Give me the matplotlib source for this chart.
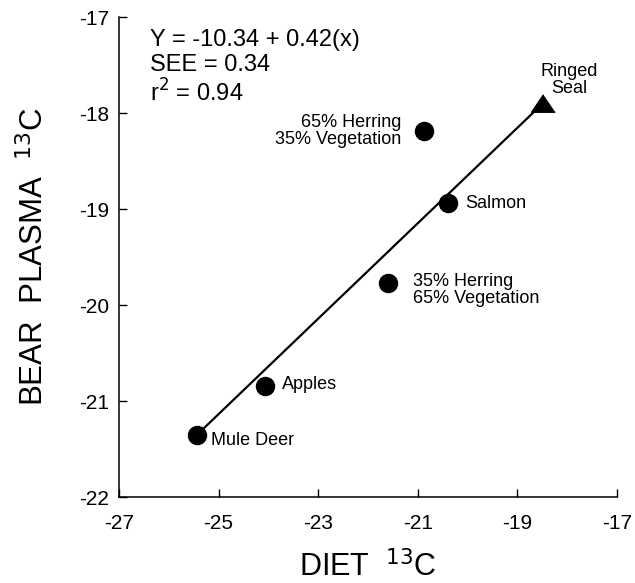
import matplotlib
matplotlib.use("Agg")
import matplotlib.pyplot as plt

plt.rcParams['font.family'] = ['Liberation Sans', 'DejaVu Sans']
plt.rcParams['axes.unicode_minus'] = False

# diet item delta 13C vs. bear plasma delta 13C
diets = ['Mule Deer', 'Apples', '35% Herring\n65% Vegetation', 'Salmon',
         '65% Herring\n35% Vegetation']
diet_c13 = [-25.43, -24.07, -21.60, -20.39, -20.88]
plasma_c13 = [-21.35, -20.84, -19.77, -18.94, -18.19]

seal_name = 'Ringed\nSeal'
seal_diet = -18.49
seal_plasma = -17.90

# fitted line drawn between the extreme diets
fit_x = [-25.43, -18.49]
fit_y = [-21.35, -17.90]

xticks = [-27, -25, -23, -21, -19, -17]
yticks = [-22, -21, -20, -19, -18, -17]

fig = plt.figure(figsize=(6.35, 5.83), dpi=100)
ax = fig.add_axes([0.1874, 0.1475, 0.7843, 0.8233])

ax.plot(fit_x, fit_y, color='black', lw=1.6, zorder=2)
ax.plot(diet_c13, plasma_c13, 'o', color='black', ms=13, zorder=3)
tri = [(0, 0.74), (-1, -0.74), (1, -0.74)]
ax.plot([seal_diet], [seal_plasma], marker=tri, color='black', ms=17,
        linestyle='none', zorder=3)

# point labels: (offset in points, alignment)
label_style = {
    'Mule Deer': ((10, -4), 'left', 'center'),
    'Apples': ((12, 1), 'left', 'center'),
    '35% Herring\n65% Vegetation': ((18, -5), 'left', 'center'),
    'Salmon': ((12, 0), 'left', 'center'),
    '65% Herring\n35% Vegetation': ((-16, 0), 'right', 'center'),
}
for name, x, y in zip(diets, diet_c13, plasma_c13):
    off, ha, va = label_style[name]
    ax.annotate(name, (x, y), xytext=off, textcoords='offset points',
                ha=ha, va=va, multialignment=ha, fontsize=13,
                linespacing=1.0)
ax.annotate(seal_name, (seal_diet, seal_plasma), xytext=(19, 4.5),
            textcoords='offset points', ha='center', va='bottom',
            multialignment='center', fontsize=13, linespacing=1.0)

ax.text(0.062, 0.975, 'Y = -10.34 + 0.42(x)\nSEE = 0.34\nr$^2$ = 0.94',
        transform=ax.transAxes, ha='left', va='top', fontsize=17,
        linespacing=1.15)

ax.set_xlim(-27, -17)
ax.set_ylim(-22, -17)
ax.set_xticks(xticks)
ax.set_yticks(yticks)
ax.set_xticklabels([str(t) for t in xticks])
ax.set_yticklabels([str(t) for t in yticks])

for side in ('top', 'right'):
    ax.spines[side].set_visible(False)
for side in ('left', 'bottom'):
    ax.spines[side].set_linewidth(1.1)
ax.tick_params(direction='in', length=6, width=1.0, labelsize=15)
ax.tick_params(axis='x', pad=12)
ax.tick_params(axis='y', pad=7)

ax.set_xlabel('DIET  $^{13}$C', fontsize=22, labelpad=13)
ax.set_ylabel('BEAR  PLASMA  $^{13}$C', fontsize=22.5, labelpad=21)

fig.savefig('out.png', dpi=100)
